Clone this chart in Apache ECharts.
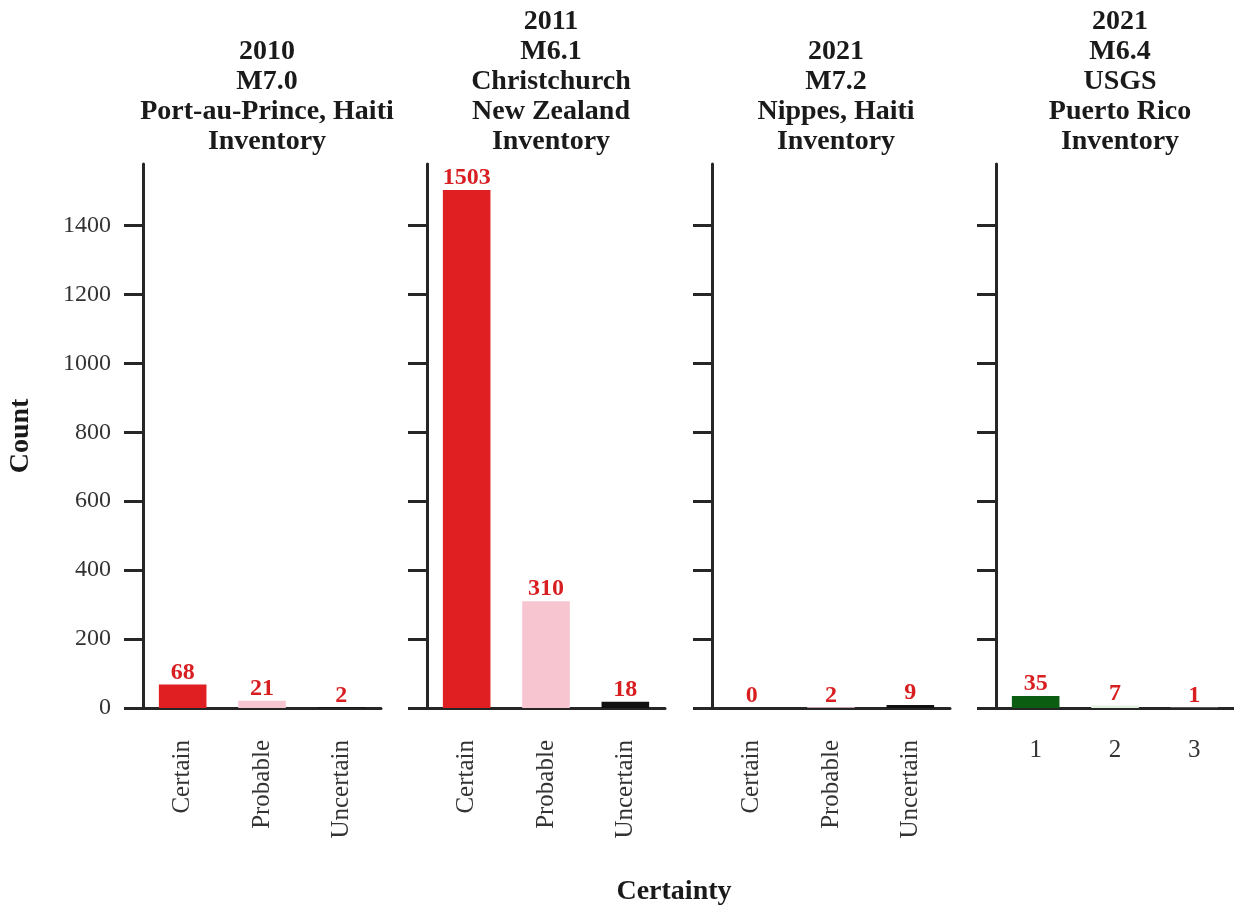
<!DOCTYPE html>
<html>
<head>
<meta charset="utf-8">
<script src="https://cdn.jsdelivr.net/npm/echarts@6/dist/echarts.min.js"></script>
<style>
  html, body { margin: 0; padding: 0; background: #fff; }
  #chart { width: 1234px; height: 905px; }
</style>
</head>
<body>
<div id="chart"></div>
<script>
// Panel titles (one per earthquake inventory)
const panelTitles = [
  "2010\nM7.0\nPort-au-Prince, Haiti\nInventory",
  "2011\nM6.1\nChristchurch\nNew Zealand\nInventory",
  "2021\nM7.2\nNippes, Haiti\nInventory",
  "2021\nM6.4\nUSGS\nPuerto Rico\nInventory"
];

// Category labels on each panel's x axis
const certaintyCategories = ["Certain", "Probable", "Uncertain"];
const usgsCategories = ["1", "2", "3"];

// Counts per panel
const haiti2010Counts = [68, 21, 2];
const christchurch2011Counts = [1503, 310, 18];
const nippes2021Counts = [0, 2, 9];
const puertoRico2021Counts = [35, 7, 1];

// Shared y axis
const yTicks = [0, 200, 400, 600, 800, 1000, 1200, 1400];
const yMax = 1578.15;

// Bar colours per category
const certaintyColors = ["#E01F22", "#F7C5D0", "#111111"];
const usgsColors = ["#0B5D12", "#e3f2df", "#f4faf2"];

const serif = "'Liberation Serif', 'Times New Roman', serif";
const axisColor = "#262626";
const labelRed = "#D81E20";
const tickLen = 19;

const panels = [
  { cats: certaintyCategories, vals: haiti2010Counts, colors: certaintyColors, rotate: 90 },
  { cats: certaintyCategories, vals: christchurch2011Counts, colors: certaintyColors, rotate: 90 },
  { cats: certaintyCategories, vals: nippes2021Counts, colors: certaintyColors, rotate: 90 },
  { cats: usgsCategories, vals: puertoRico2021Counts, colors: usgsColors, rotate: 0 }
];

const gridLefts = [143, 427, 712, 996];
const gridWidth = 238;
const gridTop = 164;
const gridHeight = 544;

const grids = [], xAxes = [], yAxes = [], series = [], titles = [];

panels.forEach((p, i) => {
  grids.push({ left: gridLefts[i], top: gridTop, width: gridWidth, height: gridHeight, containLabel: false });

  xAxes.push({
    type: "category",
    gridIndex: i,
    data: p.cats,
    axisLine: { lineStyle: { color: axisColor, width: 3 } },
    axisTick: { alignWithLabel: true, length: tickLen, lineStyle: { color: axisColor, width: 3 } },
    axisLabel: {
      rotate: p.rotate,
      margin: p.rotate ? tickLen + 13 : tickLen + 11,
      color: "#333333",
      fontFamily: serif,
      fontSize: 25
    }
  });

  yAxes.push({
    type: "value",
    gridIndex: i,
    min: 0,
    max: yMax,
    interval: 200,
    name: i === 0 ? "Count" : "",
    nameLocation: "middle",
    nameGap: 108,
    nameRotate: 90,
    nameTextStyle: { fontFamily: serif, fontWeight: "bold", fontSize: 28, color: "#1a1a1a" },
    splitLine: { show: false },
    axisLine: { show: true, lineStyle: { color: axisColor, width: 3 } },
    axisTick: { show: true, length: tickLen, customValues: yTicks, lineStyle: { color: axisColor, width: 3 } },
    axisLabel: {
      show: i === 0,
      customValues: yTicks,
      formatter: v => String(v),
      margin: tickLen + 13,
      color: "#333333",
      fontFamily: serif,
      fontSize: 24
    }
  });

  series.push({
    type: "bar",
    xAxisIndex: i,
    yAxisIndex: i,
    barWidth: "60%",
    data: p.vals.map((v, k) => ({ value: v, itemStyle: { color: p.colors[k] } })),
    label: {
      show: true,
      position: "top",
      distance: 0,
      color: labelRed,
      fontFamily: serif,
      fontWeight: "bold",
      fontSize: 24
    }
  });

  const lines = panelTitles[i].split("\n").length;
  titles.push({
    text: panelTitles[i],
    left: gridLefts[i] + gridWidth / 2,
    top: 2 + (5 - lines) * 30,
    textAlign: "center",
    textStyle: { fontFamily: serif, fontWeight: "bold", fontSize: 28, lineHeight: 30, color: "#1a1a1a" }
  });
});

titles.push({
  text: "Certainty",
  left: 669,
  top: 873,
  textAlign: "center",
  textStyle: { fontFamily: serif, fontWeight: "bold", fontSize: 28, color: "#1a1a1a" }
});

const chart = echarts.init(document.getElementById("chart"), null, { renderer: "canvas" });
chart.setOption({
  animation: false,
  backgroundColor: "#ffffff",
  title: titles,
  grid: grids,
  xAxis: xAxes,
  yAxis: yAxes,
  series: series
});
</script>
</body>
</html>
